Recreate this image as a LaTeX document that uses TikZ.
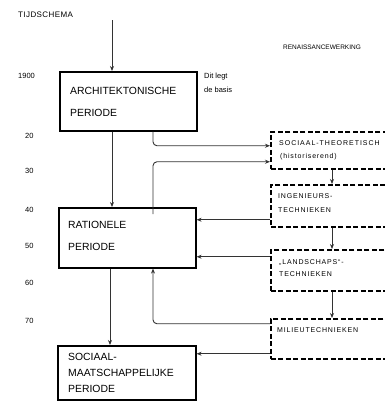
\documentclass[tikz,border=0pt]{standalone}
\usepackage{fontspec}
\setmainfont{Liberation Sans}
\newfontfamily\spaced[LetterSpace=12]{Liberation Sans}
\usetikzlibrary{arrows.meta,calc}
\tikzset{
  solidbox/.style={draw, line width=1.6pt, rectangle, inner sep=0pt},
  dashbox/.style={draw, line width=1.5pt, rectangle, inner sep=0pt, dash pattern=on 5pt off 2.5pt},
  bigtxt/.style={anchor=west, inner sep=0pt, font=\fontsize{10.4}{12}\selectfont},
  smalltxt/.style={anchor=west, inner sep=0pt, font=\spaced\fontsize{7}{8}\selectfont},
  yeartxt/.style={anchor=west, inner sep=0pt, font=\fontsize{7.5}{8}\selectfont},
  conn/.style={line width=0.9pt, draw=black!80, -{Stealth[length=5pt,width=4pt]}, rounded corners=4pt}
}
\begin{document}
\begin{tikzpicture}[x=1pt,y=-1pt]
\useasboundingbox (0,0) rectangle (385,402);
\clip (0,0) rectangle (385,402);
% column coordinates
\coordinate (cx) at (112,20);
\coordinate (cy) at (110,0);
\coordinate (c1) at (153,0);
\coordinate (c2) at (332,0);
% solid boxes
\node[solidbox, minimum width=137pt, minimum height=59pt, anchor=north west] (arch) at (59,71) {};
\node[solidbox, minimum width=137pt, minimum height=60pt, anchor=north west] (rat) at (58,207) {};
\node[solidbox, minimum width=138pt, minimum height=54pt, anchor=north west] (soc) at (57,345) {};
% dashed boxes
\node[dashbox, minimum width=130pt, minimum height=37pt, anchor=north west] (soctheo) at (270,131) {};
\node[dashbox, minimum width=130pt, minimum height=42pt, anchor=north west] (ing) at (270,184) {};
\node[dashbox, minimum width=130pt, minimum height=41pt, anchor=north west] (land) at (270,249) {};
\node[dashbox, minimum width=130pt, minimum height=40pt, anchor=north west] (mil) at (270,318) {};
% texts
\node[yeartxt, font=\addfontfeatures{LetterSpace=5}\fontsize{8}{9}\selectfont] (tijd) at (18,15) {TIJDSCHEMA};
\node[yeartxt, font=\fontsize{6.5}{8}\selectfont] (ren) at (283,47) {RENAISSANCEWERKING};
\node[yeartxt] (y1900) at (18,76) {1900};
\node[yeartxt] (y20) at (25,136) {20};
\node[yeartxt] (y30) at (25,171) {30};
\node[yeartxt] (y40) at (25,210) {40};
\node[yeartxt] (y50) at (25,246) {50};
\node[yeartxt] (y60) at (25,283) {60};
\node[yeartxt] (y70) at (25,321) {70};
\node[anchor=north west, inner sep=0pt, align=left, font=\fontsize{7.5}{14}\selectfont] (basis) at (204,73) {Dit legt\\de basis};
\node[bigtxt] (t1) at (70,91) {ARCHITEKTONISCHE};
\node[bigtxt] (t2) at (70,113) {PERIODE};
\node[bigtxt] (t3) at (68,225) {RATIONELE};
\node[bigtxt] (t4) at (68,247) {PERIODE};
\node[bigtxt] (t5) at (68,357) {SOCIAAL-};
\node[bigtxt] (t6) at (68,373) {MAATSCHAPPELIJKE};
\node[bigtxt] (t7) at (68,389) {PERIODE};
\node[smalltxt, font=\addfontfeatures{LetterSpace=14}\fontsize{7}{8}\selectfont] (s1) at (279,143) {SOCIAAL-THEORETISCH};
\node[smalltxt] (s2) at (280,157) {(historiserend)};
\node[smalltxt] (s3) at (278,196) {INGENIEURS-};
\node[smalltxt] (s4) at (278,210) {TECHNIEKEN};
\node[smalltxt] (s5) at (279,262) {„LANDSCHAPS“-};
\node[smalltxt] (s6) at (279,274) {TECHNIEKEN};
\node[smalltxt] (s7) at (277,330) {MILIEUTECHNIEKEN};
% connector end points
\coordinate (a1) at ($(soctheo.west)+(0,-4.5)$);
\coordinate (a2) at ($(soctheo.west)+(0,11.5)$);
\coordinate (a3) at ($(ing.west)+(0,14)$);
\coordinate (a4) at ($(land.west)+(0,-13.5)$);
\coordinate (a5) at ($(mil.west)+(0,-15)$);
\coordinate (a6) at ($(mil.west)+(0,15)$);
\coordinate (r0) at ($(rat.north -| c1)+(0,7)$);
% connectors
\draw[conn] (cx) -- (cx |- arch.north);
\draw[conn] (arch.south -| cx) -- (rat.north -| cx);
\draw[conn] (rat.south -| cy) -- (soc.north -| cy);
\draw[conn] (arch.south -| c1) |- (a1);
\draw[conn] (r0) |- (a2);
\draw[conn] (soctheo.south -| c2) -- (ing.north -| c2);
\draw[conn] (ing.south -| c2) -- (land.north -| c2);
\draw[conn] (land.south -| c2) -- (mil.north -| c2);
\draw[conn] (a3) -- (rat.east |- a3);
\draw[conn] (a4) -- (rat.east |- a4);
\draw[conn] (a5) -| (rat.south -| c1);
\draw[conn] (a6) -- (soc.east |- a6);
\end{tikzpicture}
\end{document}
